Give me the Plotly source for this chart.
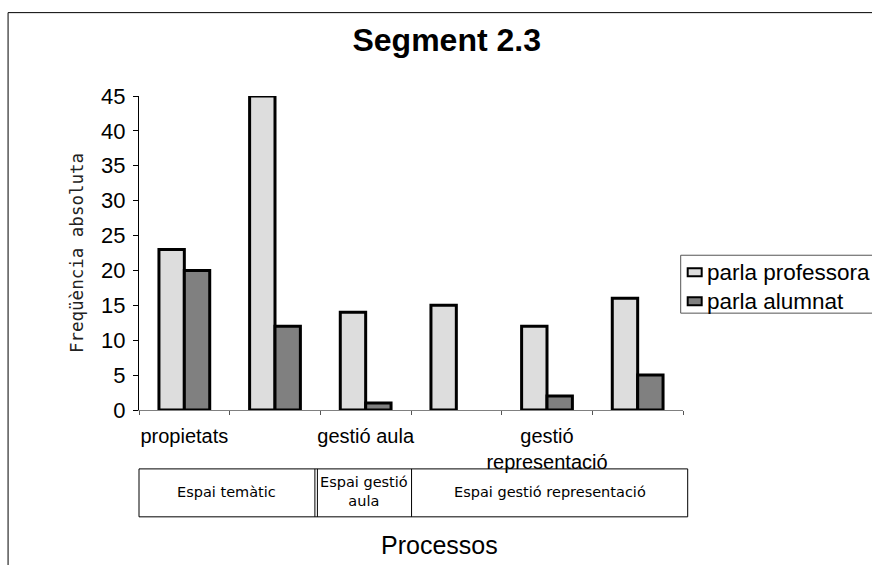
import plotly.graph_objects as go

# ---- data ----
categories = [0, 1, 2, 3, 4, 5]
tick_labels = ["propietats", "", "gestió aula", "", "gestió<br>representació", ""]
professora = [23, 45, 14, 15, 12, 16]
alumnat = [20, 12, 1, 0, 2, 5]
series_names = ["parla professora", "parla alumnat"]
table_labels = ["Espai temàtic", "Espai gestió<br>aula", "Espai gestió representació"]
title_text = "Segment 2.3"
x_title = "Processos"
y_title = "Freqüència absoluta"

W, H = 872, 565
# plot area in screen px
SL, SR, ST, SB = 139, 683.3, 95.5, 410


def px(xs):
    return (xs - SL) / (SR - SL)


def py(ys):
    return (SB - ys) / (SB - ST)


def outline(values):
    return [3 if v > 0 else 0 for v in values]


ARIAL = "Liberation Sans, Arial, sans-serif"
GENEVA = "DejaVu Sans, sans-serif"

fig = go.Figure()
fig.add_trace(go.Bar(x=categories, y=professora, name=series_names[0],
                     marker=dict(color="#dddddd", line=dict(color="black", width=outline(professora))),
                     showlegend=False))
fig.add_trace(go.Bar(x=categories, y=alumnat, name=series_names[1],
                     marker=dict(color="#808080", line=dict(color="black", width=outline(alumnat))),
                     showlegend=False))

shapes = []
annotations = []
# outer frame
shapes.append(dict(type="rect", xref="paper", yref="paper", x0=px(8), y0=py(600), x1=px(900), y1=py(12),
                   line=dict(color="black", width=1), layer="below"))
# category table
tl, tr, tt, tb = 139, 688, 469, 517
shapes.append(dict(type="rect", xref="paper", yref="paper", x0=px(tl), x1=px(tr), y0=py(tb), y1=py(tt),
                   line=dict(color="black", width=1)))
for xd in [315, 317.5, 411.7]:
    shapes.append(dict(type="line", xref="paper", yref="paper", x0=px(xd), x1=px(xd), y0=py(tb), y1=py(tt),
                       line=dict(color="black", width=1)))
cell_centers = [(tl + 315) / 2, (317.5 + 411.7) / 2, (411.7 + tr) / 2]
for lab, cx in zip(table_labels, cell_centers):
    annotations.append(dict(text=lab, xref="paper", yref="paper", x=px(cx), y=py(492), xanchor="center",
                            yanchor="middle", showarrow=False, font=dict(family=GENEVA, size=14.5, color="black")))
# x axis title
annotations.append(dict(text=x_title, xref="paper", yref="paper", x=px(440), y=py(545), xanchor="center",
                        yanchor="middle", showarrow=False, font=dict(family=ARIAL, size=25, color="black")))
# legend (manual)
shapes.append(dict(type="rect", xref="paper", yref="paper", x0=px(681), x1=px(900), y0=py(313), y1=py(255),
                   line=dict(color="#555555", width=1), fillcolor="white"))
for i, (nm, col, yc) in enumerate([(series_names[0], "#dddddd", 272), (series_names[1], "#808080", 301)]):
    shapes.append(dict(type="rect", xref="paper", yref="paper", x0=px(688), x1=px(702), y0=py(yc + 4),
                       y1=py(yc - 4), line=dict(color="black", width=2), fillcolor=col))
    annotations.append(dict(text=nm, xref="paper", yref="paper", x=px(705), y=py(yc), xanchor="left",
                            yanchor="middle", showarrow=False, font=dict(family=ARIAL, size=22.5, color="black")))

fig.update_layout(
    width=W, height=H,
    margin=dict(l=SL, r=W - SR, t=ST, b=H - SB, autoexpand=False),
    paper_bgcolor="white", plot_bgcolor="white",
    barmode="group", bargap=0.44, bargroupgap=0,
    title=dict(text=title_text, x=446.7 / W, xanchor="center", xref="container", yref="container",
               y=1 - 40 / H, yanchor="middle",
               font=dict(family=ARIAL, size=32, color="black", weight="bold")),
    xaxis=dict(range=[-0.5, 5.5], tickmode="array", tickvals=categories, ticktext=tick_labels,
               ticks="", showline=True, linecolor="#808080", linewidth=1, showgrid=False, zeroline=False,
               tickfont=dict(family=ARIAL, size=20, color="black"), ticklabelstandoff=8,
               minor=dict(tickmode="array", tickvals=[c - 0.5 for c in categories] + [categories[-1] + 0.5],
                          ticks="outside", ticklen=4, tickcolor="#555555", showgrid=False)),
    yaxis=dict(range=[0, 45], dtick=5, ticks="outside", ticklen=5, tickcolor="black", showline=True,
               linecolor="black", linewidth=1, showgrid=False, zeroline=False,
               tickfont=dict(family=ARIAL, size=22, color="black"), ticklabelstandoff=3,
               title=dict(text=y_title, standoff=12, font=dict(family="DejaVu Sans Mono, monospace", size=17.5,
                                                               color="#222222"))),
    shapes=shapes, annotations=annotations,
    font=dict(family=ARIAL, color="black"),
)

fig.write_html("out.html", config={"displayModeBar": False},
               post_script="document.body.style.margin='0';document.body.style.overflow='hidden';")
